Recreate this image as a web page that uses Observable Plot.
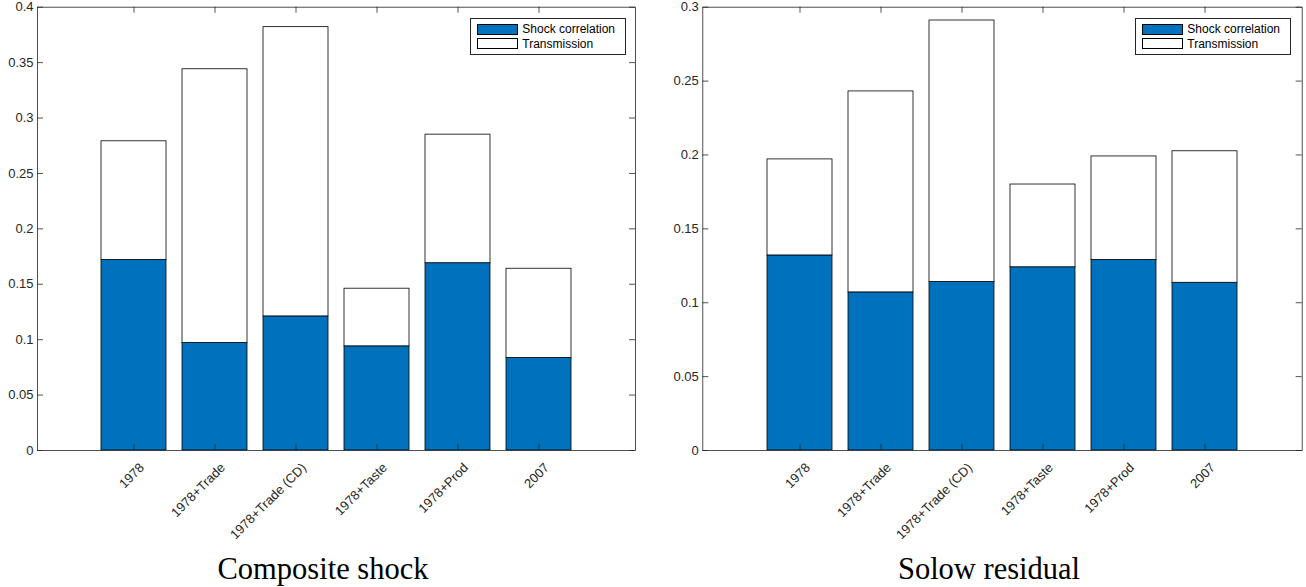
<!DOCTYPE html>
<html><head><meta charset="utf-8">
<script src="https://cdn.jsdelivr.net/npm/d3@7"></script>
<script src="https://cdn.jsdelivr.net/npm/@observablehq/plot@0.6"></script>
<style>
body{margin:0;background:#fff;}
#wrap{position:relative;width:1306px;height:587px;overflow:hidden;background:#fff;}
.panel{position:absolute;top:0;}
.legend{position:absolute;border:1px solid #262626;background:#fff;box-sizing:border-box;font-family:"Liberation Sans",Arial,sans-serif;font-size:12px;color:#000;}
.legend .row{position:absolute;left:0;height:12px;display:flex;align-items:center;white-space:nowrap;}
.sw{width:41.6px;height:11px;border:1px solid #000;box-sizing:border-box;margin-left:5.7px;margin-right:4px;}
.title{position:absolute;width:400px;text-align:center;font-family:"Liberation Serif","Times New Roman",serif;font-size:30.5px;line-height:30.5px;color:#000;}
</style></head>
<body><div id="wrap"></div>
<script>
// ---- data ----
const categories = ["1978", "1978+Trade", "1978+Trade (CD)", "1978+Taste", "1978+Prod", "2007"];
const seriesNames = ["Shock correlation", "Transmission"];
// Composite shock panel
const compositeShock = [0.172, 0.097, 0.121, 0.094, 0.169, 0.0835];
const compositeTransmission = [0.107, 0.247, 0.261, 0.052, 0.116, 0.0805];
const compositeYTicks = [0, 0.05, 0.1, 0.15, 0.2, 0.25, 0.3, 0.35, 0.4];
// Solow residual panel
const solowShock = [0.132, 0.107, 0.114, 0.124, 0.129, 0.1135];
const solowTransmission = [0.065, 0.136, 0.177, 0.056, 0.070, 0.089];
const solowYTicks = [0, 0.05, 0.1, 0.15, 0.2, 0.25, 0.3];
const panelTitles = ["Composite shock", "Solow residual"];

const blue = "#0072BD";
const axisColor = "#262626";

function makePanel({shock, trans, yTicks, yMax, width, marginLeft, marginRight}) {
  const height = 545, marginTop = 6.7, marginBottom = 95;
  const plotW = width - marginLeft - marginRight;
  const plotH = height - marginTop - marginBottom;
  const rows = categories.map((c, i) => ({cat: c, s: shock[i], t: shock[i] + trans[i]}));
  return Plot.plot({
    width, height, marginLeft, marginRight, marginTop, marginBottom,
    style: {fontFamily: "'Liberation Sans', Arial, sans-serif", fontSize: "13px", background: "transparent", overflow: "visible"},
    x: {type: "band", domain: categories, paddingInner: 0.2, paddingOuter: 0.79, align: 0.5, label: null},
    y: {domain: [0, yMax], label: null},
    marks: [
      Plot.barY(rows, {x: "cat", y1: 0, y2: "s", fill: blue, stroke: "#000", strokeWidth: 0.8}),
      Plot.barY(rows, {x: "cat", y1: "s", y2: "t", fill: "#fff", stroke: "#000", strokeWidth: 0.8}),
      Plot.frame({stroke: axisColor, strokeWidth: 0.8}),
      Plot.tickY(yTicks, {y: d => d, insetRight: plotW - 6, stroke: axisColor, strokeWidth: 0.8}),
      Plot.tickY(yTicks, {y: d => d, insetLeft: plotW - 6, stroke: axisColor, strokeWidth: 0.8}),
      Plot.tickX(categories, {x: d => d, insetTop: plotH - 6, stroke: axisColor, strokeWidth: 0.8}),
      Plot.tickX(categories, {x: d => d, insetBottom: plotH - 6, stroke: axisColor, strokeWidth: 0.8}),
      Plot.axisY({ticks: yTicks, tickSize: 0, tickPadding: 4, tickFormat: d => String(d), label: null, fill: axisColor, fontSize: 13}),
      Plot.axisX({tickSize: 0, tickRotate: -45, tickPadding: 15, dx: 8, label: null, fill: axisColor, fontSize: 13})
    ]
  });
}

const wrap = document.getElementById("wrap");

function addPanel(left, opts, legendLeft, titleCenter, title) {
  const div = document.createElement("div");
  div.className = "panel";
  div.style.left = left + "px";
  div.appendChild(makePanel(opts));
  wrap.appendChild(div);

  const lg = document.createElement("div");
  lg.className = "legend";
  lg.style.left = legendLeft + "px";
  lg.style.top = "18.3px";
  lg.style.width = "155.5px";
  lg.style.height = "36.7px";
  const fills = [blue, "#fff"];
  const tops = [3.9, 18.5];
  seriesNames.forEach((name, i) => {
    const r = document.createElement("div");
    r.className = "row";
    r.style.top = tops[i] + "px";
    const sw = document.createElement("div");
    sw.className = "sw";
    sw.style.background = fills[i];
    const tx = document.createElement("span");
    tx.textContent = name;
    r.appendChild(sw); r.appendChild(tx);
    lg.appendChild(r);
  });
  wrap.appendChild(lg);

  const t = document.createElement("div");
  t.className = "title";
  t.style.left = (titleCenter - 200) + "px";
  t.style.top = "553.5px";
  t.textContent = title;
  wrap.appendChild(t);
}

addPanel(0, {shock: compositeShock, trans: compositeTransmission, yTicks: compositeYTicks, yMax: 0.4, width: 650, marginLeft: 37, marginRight: 15}, 470, 323, panelTitles[0]);
addPanel(653, {shock: solowShock, trans: solowTransmission, yTicks: solowYTicks, yMax: 0.3, width: 653, marginLeft: 49.3, marginRight: 4.3}, 1135, 989, panelTitles[1]);
</script>
</body></html>
